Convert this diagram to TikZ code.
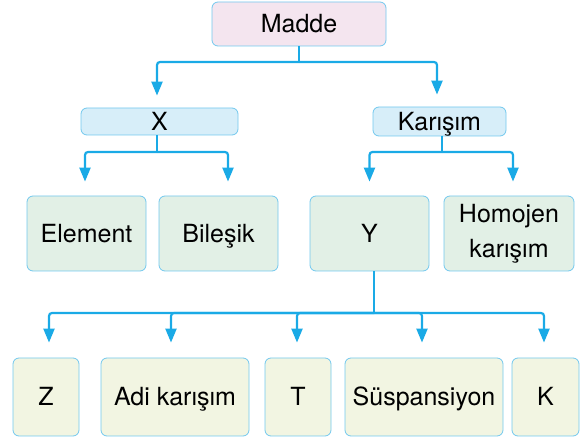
\documentclass[tikz,border=0pt]{standalone}
\usepackage{fontspec}
\setmainfont{TeX Gyre Heros}
\usetikzlibrary{arrows.meta}
\definecolor{linkblue}{HTML}{1AAAE6}
\definecolor{boxedge}{HTML}{72C8EE}
\definecolor{topfill}{HTML}{F4E5EF}
\definecolor{midfill}{HTML}{D7EEF9}
\definecolor{leaffill}{HTML}{E2F0E6}
\definecolor{lowfill}{HTML}{F2F5E2}

\begin{document}
\begin{tikzpicture}[
                x=1pt, y=-1pt,
                box/.style={draw=boxedge, line width=0.8pt, rounded corners=6pt,
                    align=center, inner sep=0pt,
                    font=\fontsize{25}{35}\selectfont},
                oneline/.style={text height=18pt, text depth=0pt},
                topbox/.style={box, oneline, fill=topfill},
                midbox/.style={box, oneline, fill=midfill},
                leafbox/.style={box, fill=leaffill, minimum height=75pt},
                lowbox/.style={box, oneline, fill=lowfill, minimum height=78pt},
                link/.style={linkblue, line width=2.2pt, rounded corners=3pt},
                arrowlink/.style={link, -{Triangle[length=14pt,width=11pt]}}]
            \useasboundingbox (0,0) rectangle (582,438);
            % first levels
            \node[topbox, minimum width=174pt, minimum height=44pt] (madde) at (299,24) {Madde};
            \node[midbox, minimum width=157pt, minimum height=27pt] (x) at (159.5,121.5) {X};
            \node[midbox, minimum width=133pt, minimum height=29pt] (karisim) at (439.5,121.5) {Karışım};
            \node[leafbox, oneline, minimum width=119pt] (element) at (86.5,233.5) {Element};
            \node[leafbox, oneline, minimum width=119pt] (bilesik) at (218.5,233.5) {Bileşik};
            \node[leafbox, oneline, minimum width=119pt] (y) at (369.5,233.5) {Y};
            \node[leafbox, minimum width=130pt] (homojen) at (509,233.5) {Homojen\\karışım};
            % last level
            \node[lowbox, minimum width=66pt] (z) at (46,397) {Z};
            \node[lowbox, minimum width=148pt] (adi) at (175,397) {Adi karışım};
            \node[lowbox, minimum width=66pt] (t) at (298,397) {T};
            \node[lowbox, minimum width=158pt] (suspansiyon) at (424,397) {Süspansiyon};
            \node[lowbox, minimum width=67pt] (k) at (545.5,397) {K};
            % connectors
            \coordinate (madde_bus) at (299,62);
            \coordinate (x_bus) at (157,152);
            \coordinate (karisim_bus) at (442,152);
            \coordinate (y_bus) at (374,313);
            \draw[link] (madde.south) -- (madde_bus);
            \draw[arrowlink, shorten >=12pt] (madde_bus) -| ([xshift=-2.5pt]x.north);
            \draw[arrowlink, shorten >=12pt] (madde_bus) -| ([xshift=-2.5pt]karisim.north);
            \draw[link] (x.south -| x_bus) -- (x_bus);
            \draw[arrowlink, shorten >=14pt] (x_bus) -| ([xshift=-1.5pt]element.north);
            \draw[arrowlink, shorten >=14pt] (x_bus) -| ([xshift=9.5pt]bilesik.north);
            \draw[link] (karisim.south -| karisim_bus) -- (karisim_bus);
            \draw[arrowlink, shorten >=14pt] (karisim_bus) -| (y.north);
            \draw[arrowlink, shorten >=14pt] (karisim_bus) -| ([xshift=4pt]homojen.north);
            \draw[link] (y.south -| y_bus) -- (y_bus);
            \draw[arrowlink, shorten >=15pt] (y_bus) -| ([xshift=3pt]z.north);
            \draw[arrowlink, shorten >=15pt] (y_bus) -| ([xshift=-4pt]adi.north);
            \draw[arrowlink, shorten >=15pt] (y_bus) -| ([xshift=-1pt]t.north);
            \draw[arrowlink, shorten >=15pt] (y_bus) -| ([xshift=-2pt]suspansiyon.north);
            \draw[arrowlink, shorten >=15pt] (y_bus) -| ([xshift=-1.5pt]k.north);
        \end{tikzpicture}
\end{document}
